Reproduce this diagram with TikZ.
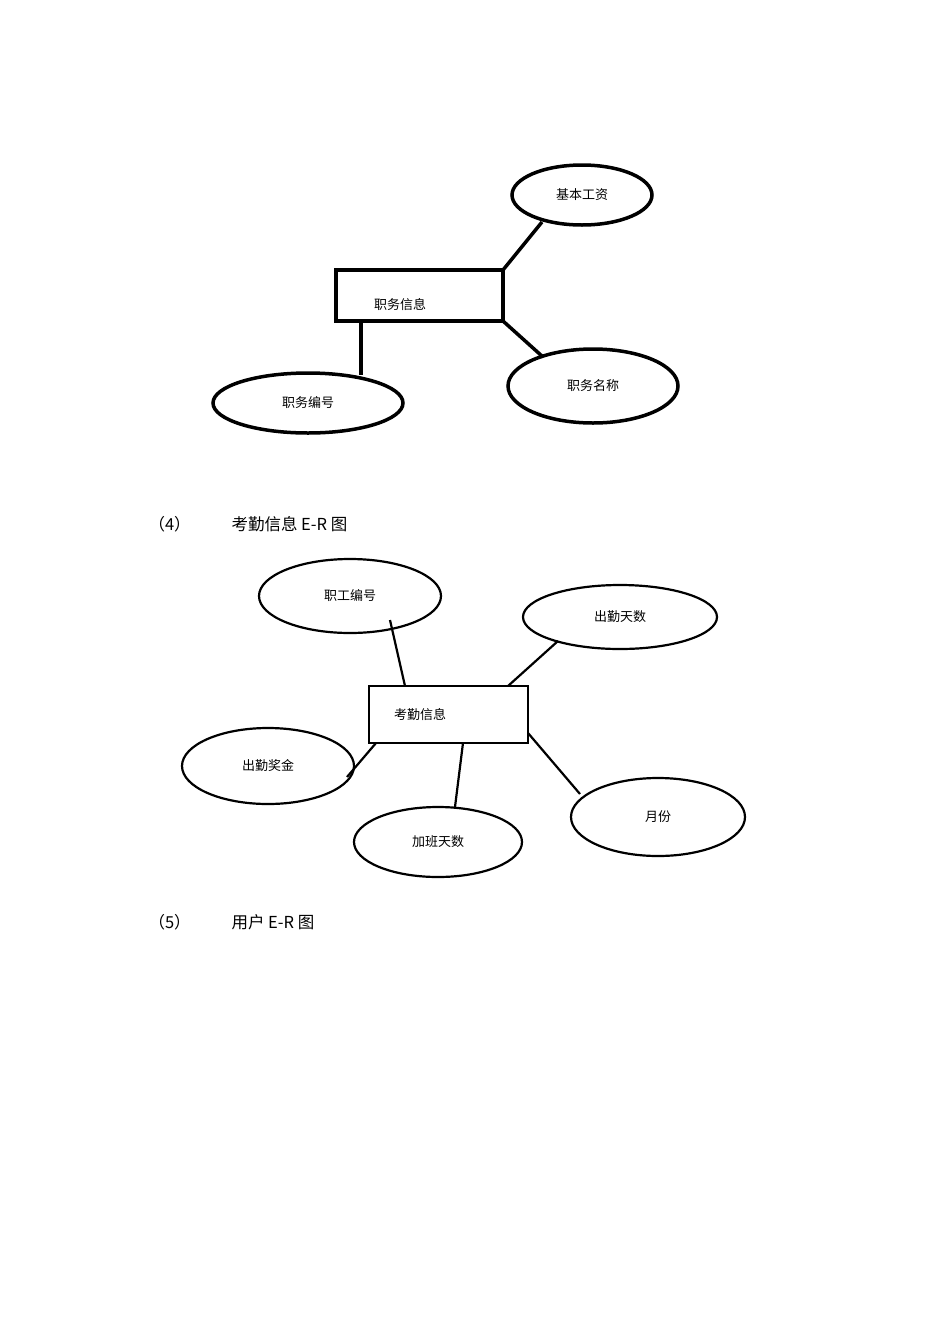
\documentclass[tikz,border=0pt]{standalone}
\usepackage{fontspec}
\setmainfont{Noto Sans CJK SC}
\usetikzlibrary{shapes.geometric}
\begin{document}
\begin{tikzpicture}[x=1pt,y=-1pt,
  ent/.style={draw,line width=3.5pt,inner sep=0pt},
  att/.style={draw,ellipse,line width=3.5pt,inner sep=0pt,font=\fontsize{13}{13}\selectfont},
  entb/.style={draw,line width=2.2pt,inner sep=0pt},
  attb/.style={draw,ellipse,line width=2.2pt,inner sep=0pt,font=\fontsize{13}{13}\selectfont},
  lk/.style={line width=3.5pt},
  lkb/.style={line width=2.2pt},
  head/.style={anchor=west,font=\fontsize{16.5}{16.5}\selectfont}]
\useasboundingbox (0,0) rectangle (950,1344);
% diagram 1
\node[ent,minimum width=167pt,minimum height=51pt] (zw) at (419.5,295.5) {};
\node[font=\fontsize{13}{13}\selectfont] (zwt) at (400,305) {职务信息};
\node[att,minimum width=140pt,minimum height=60pt] (jb) at (582,195) {基本工资};
\node[att,minimum width=170pt,minimum height=74pt] (mc) at (593,386) {职务名称};
\node[att,minimum width=190pt,minimum height=60pt] (bh) at (308,403) {职务编号};
\coordinate (a1) at (503,270); \coordinate (a2) at (542,222);
\coordinate (b1) at (503,321); \coordinate (b2) at (543,357);
\coordinate (c1) at (361,321); \coordinate (c2) at (361,375);
\draw[lk] (a1)--(a2); \draw[lk] (b1)--(b2); \draw[lk] (c1)--(c2);
% heading 4
\node[head] (h4a) at (145,524) {（4）};
\node[head] (h4b) at (228,524) {考勤信息 E-R 图};
% diagram 2
\node[entb,minimum width=159pt,minimum height=57pt] (kq) at (448.5,714.5) {};
\node[font=\fontsize{13}{13}\selectfont] (kqt) at (420,715) {考勤信息};
\node[attb,minimum width=182pt,minimum height=74pt] (zg) at (350,596) {职工编号};
\node[attb,minimum width=194pt,minimum height=64pt] (cq) at (620,617) {出勤天数};
\node[attb,minimum width=172pt,minimum height=76pt] (jj) at (268,766) {出勤奖金};
\node[attb,minimum width=168pt,minimum height=70pt] (jbt) at (438,842) {加班天数};
\node[attb,minimum width=174pt,minimum height=78pt] (yf) at (658,817) {月份};
\coordinate (d1) at (390,620); \coordinate (d2) at (405,686);
\coordinate (e1) at (558,641); \coordinate (e2) at (508,686);
\coordinate (f1) at (376,743); \coordinate (f2) at (347,777);
\coordinate (g1) at (463,743); \coordinate (g2) at (455,807);
\coordinate (h1) at (528,733); \coordinate (h2) at (580,794);
\draw[lkb] (d1)--(d2); \draw[lkb] (e1)--(e2); \draw[lkb] (f1)--(f2);
\draw[lkb] (g1)--(g2); \draw[lkb] (h1)--(h2);
% heading 5
\node[head] (h5a) at (145,922) {（5）};
\node[head] (h5b) at (228,922) {用户 E-R 图};
\end{tikzpicture}
\end{document}
